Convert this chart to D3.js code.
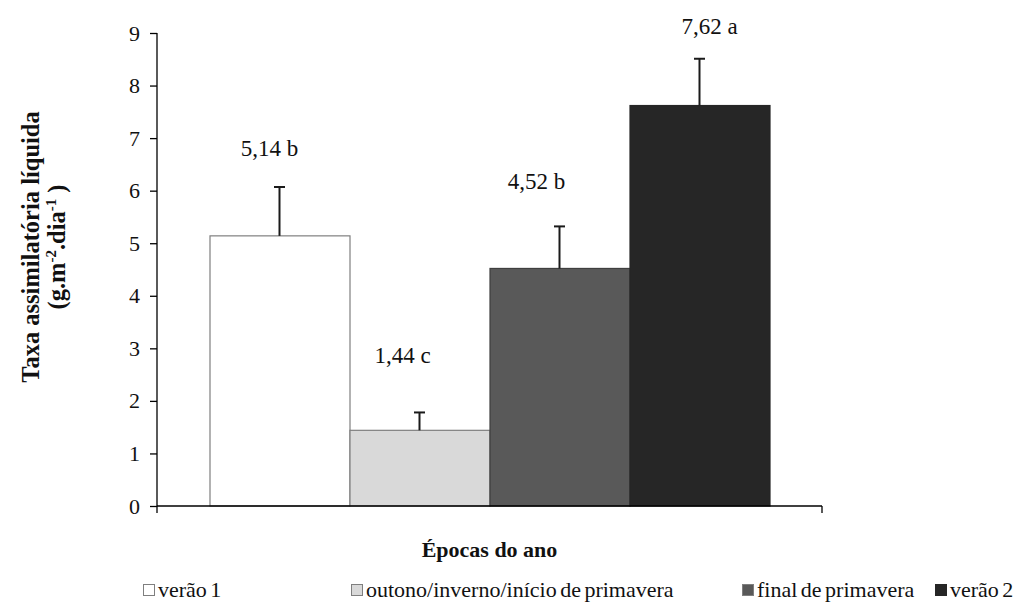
<!DOCTYPE html>
<html>
<head>
<meta charset="utf-8">
<script src="https://cdn.jsdelivr.net/npm/d3@7"></script>
<style>
  html, body { margin: 0; padding: 0; background: #fff; }
  svg { display: block; }
</style>
</head>
<body>
<svg id="chart" width="1022" height="606"></svg>
<script>
// Net assimilation rate by season of the year
const seasons = ["verão 1", "outono/inverno/início de primavera", "final de primavera", "verão 2"];
const rates = [5.14, 1.44, 4.52, 7.62];
const errors = [0.93, 0.34, 0.80, 0.89];
const letters = ["b", "c", "b", "a"];
const yTicks = [0, 1, 2, 3, 4, 5, 6, 7, 8, 9];

const fills = ["#ffffff", "#d9d9d9", "#595959", "#262626"];
const strokes = ["#7f7f7f", "#7f7f7f", "#3f3f3f", "#262626"];
const FONT = "'Liberation Serif', 'Times New Roman', Tinos, serif";

// label placement relative to the top of each error bar (px)
const labelShift = [[-10, -31], [-17, -49], [-23, -37], [10, -25]];

const svg = d3.select("#chart");
const plot = { left: 157, right: 822, top: 33, bottom: 506 };

const x = d3.scaleBand()
  .domain(seasons)
  .range([plot.left, plot.right])
  .paddingInner(0)
  .paddingOuter(0.375);

const y = d3.scaleLinear()
  .domain([0, 9])
  .range([plot.bottom, plot.top]);

const fmt = v => v.toFixed(2).replace(".", ",");

// bars
svg.append("g").selectAll("rect")
  .data(seasons)
  .join("rect")
  .attr("x", d => x(d) + 0.5)
  .attr("y", (d, i) => y(rates[i]))
  .attr("width", x.bandwidth())
  .attr("height", (d, i) => y(0) - y(rates[i]))
  .attr("fill", (d, i) => fills[i])
  .attr("stroke", (d, i) => strokes[i])
  .attr("stroke-width", 1.2);

// error bars (upper only)
const eb = svg.append("g").attr("stroke", "#1a1a1a").attr("stroke-width", 2);
seasons.forEach((s, i) => {
  const cx = x(s) + x.bandwidth() / 2;
  eb.append("line")
    .attr("x1", cx).attr("x2", cx)
    .attr("y1", y(rates[i])).attr("y2", y(rates[i] + errors[i]));
  eb.append("line")
    .attr("x1", cx - 5.5).attr("x2", cx + 5.5)
    .attr("y1", y(rates[i] + errors[i])).attr("y2", y(rates[i] + errors[i]));
});

// value labels
svg.append("g").selectAll("text")
  .data(seasons)
  .join("text")
  .style("font-family", FONT)
  .attr("x", (d, i) => x(d) + x.bandwidth() / 2 + labelShift[i][0])
  .attr("y", (d, i) => y(rates[i] + errors[i]) + labelShift[i][1])
  .attr("text-anchor", "middle")
  .attr("font-size", 23)
  .attr("fill", "#111")
  .text((d, i) => `${fmt(rates[i])} ${letters[i]}`);

// y axis
const yAxis = svg.append("g")
  .attr("transform", `translate(${plot.left},0)`)
  .call(d3.axisLeft(y).tickValues(yTicks).tickSize(7).tickPadding(10).tickFormat(d3.format("d")));
yAxis.select(".domain").attr("stroke", "#000").attr("stroke-width", 1.3).attr("d", `M0,${plot.top}V${plot.bottom}`);
yAxis.selectAll(".tick line").attr("stroke", "#000").attr("stroke-width", 1.3);
yAxis.selectAll(".tick text")
  .style("font-family", FONT)
  .attr("font-size", 22)
  .attr("fill", "#111");

// x axis: a single baseline with end ticks
const xAxis = svg.append("g").attr("stroke", "#000").attr("stroke-width", 1.3);
xAxis.append("line").attr("x1", plot.left).attr("x2", plot.right).attr("y1", y(0)).attr("y2", y(0));
[plot.left, plot.right].forEach(px => {
  xAxis.append("line").attr("x1", px).attr("x2", px).attr("y1", y(0)).attr("y2", y(0) + 7);
});

// axis titles
svg.append("text")
  .style("font-family", FONT)
  .attr("x", (plot.left + plot.right) / 2)
  .attr("y", 557)
  .attr("text-anchor", "middle")
  .attr("font-weight", "bold")
  .attr("font-size", 22)
  .attr("fill", "#111")
  .text("Épocas do ano");

const yTitle = svg.append("g").attr("transform", "translate(0,247) rotate(-90)");
yTitle.append("text")
  .style("font-family", FONT)
  .attr("x", 0).attr("y", 39)
  .attr("text-anchor", "middle")
  .attr("font-weight", "bold")
  .attr("font-size", 24.5)
  .attr("fill", "#111")
  .text("Taxa assimilatória líquida");
const unit = yTitle.append("text")
  .style("font-family", FONT)
  .attr("x", 0).attr("y", 65)
  .attr("text-anchor", "middle")
  .attr("font-weight", "bold")
  .attr("font-size", 24.5)
  .attr("fill", "#111");
unit.append("tspan").text("(g.m");
unit.append("tspan").attr("dy", -9).attr("font-size", 15).text("-2");
unit.append("tspan").attr("dy", 9).text(".dia");
unit.append("tspan").attr("dy", -9).attr("font-size", 15).text("-1");
unit.append("tspan").attr("dy", 9).text(" )");

// legend
const legendX = [143, 351, 742, 935];
const legend = svg.append("g");
seasons.forEach((s, i) => {
  const g = legend.append("g").attr("transform", `translate(${legendX[i]},0)`);
  g.append("rect")
    .attr("x", 0.5).attr("y", 584.5)
    .attr("width", 11).attr("height", 11)
    .attr("fill", fills[i])
    .attr("stroke", i === 3 ? "#262626" : "#7f7f7f");
  g.append("text")
    .style("font-family", FONT)
    .style("word-spacing", "-2px")
    .attr("x", 15).attr("y", 597)
    .attr("font-size", 22)
    .attr("fill", "#111")
    .text(s);
});
</script>
</body>
</html>
